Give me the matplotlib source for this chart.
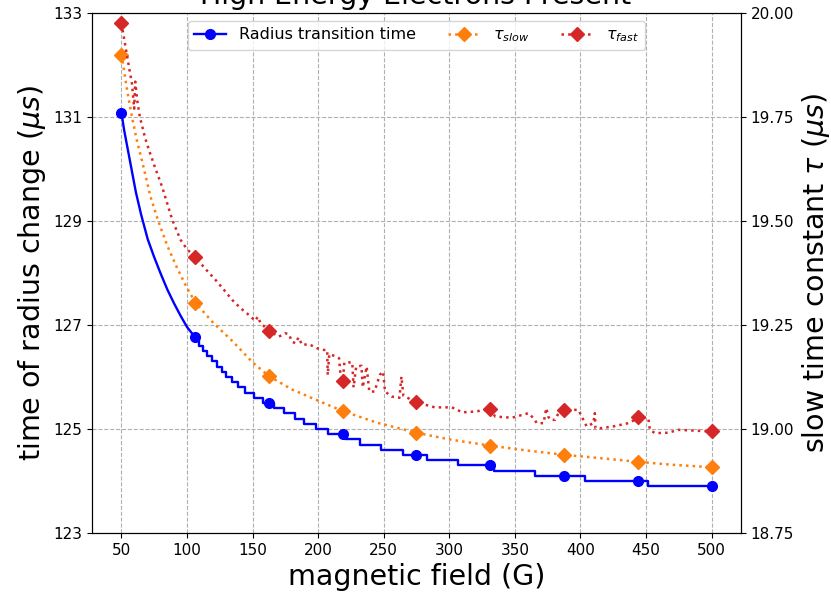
import matplotlib
matplotlib.use("Agg")
import matplotlib.pyplot as plt
from matplotlib.lines import Line2D

# radius transition time (left axis), smooth part then quantised steps
radius_curve_B = [50, 52, 55, 58, 61, 65, 70, 75, 80, 85, 90, 95, 100, 106.25]
radius_curve_t = [131.08, 130.75, 130.35, 129.95, 129.55, 129.12, 128.65, 128.30,
                  127.98, 127.68, 127.42, 127.18, 126.96, 126.76]
radius_step_B = [106.25, 109, 112, 115.5, 119, 122.5, 126.5, 130, 134, 139, 144.5, 151,
                 158, 166, 174, 182, 189, 198, 207.7, 220.8, 232.2, 248.2, 264.5, 283,
                 307, 333.8, 365.5, 403.5, 451.8, 500]
radius_step_t = [126.7, 126.6, 126.5, 126.4, 126.3, 126.2, 126.1, 126.0, 125.9, 125.8,
                 125.7, 125.6, 125.5, 125.4, 125.3, 125.2, 125.1, 125.0, 124.9, 124.8,
                 124.7, 124.6, 124.5, 124.4, 124.3, 124.2, 124.1, 124.0, 123.9, 123.9]
mark_B = [50, 106.25, 162.5, 218.75, 275, 331.25, 387.5, 443.75, 500]
radius_mark_t = [131.08, 126.76, 125.5, 124.9, 124.5, 124.3, 124.1, 124.0, 123.9]

# tau_slow (right axis)
slow_B = [50, 54, 58, 62, 66, 72, 78, 85, 92, 99, 106.25, 120, 135, 150, 162.5, 180,
          200, 218.75, 245, 275, 300, 331.25, 360, 387.5, 415, 443.75, 470, 500]
slow_tau = [19.900, 19.82, 19.75, 19.69, 19.64, 19.56, 19.50, 19.44, 19.39, 19.345,
            19.304, 19.255, 19.21, 19.16, 19.127, 19.095, 19.068, 19.043, 19.015,
            18.991, 18.975, 18.960, 18.948, 18.938, 18.930, 18.921, 18.914, 18.908]
slow_mark_tau = [19.900, 19.304, 19.127, 19.043, 18.991, 18.960, 18.938, 18.921, 18.908]

# tau_fast (right axis), noisy
fast_B = [50, 53, 56, 58, 59.7, 60.5, 62, 64, 68, 71, 76, 81, 88.8, 95, 100, 106.25,
          114, 121.8, 128, 134.5, 141, 147.2, 152, 154, 156, 162.5, 170, 175, 177.7,
          180, 182.7, 185, 187.8, 192.9, 199.2, 204.3, 206.9, 207.3, 208.5, 213, 216,
          217, 218.75, 220, 226, 227, 229, 233, 234, 237, 239, 243, 247, 249.5, 251,
          256, 262, 263.5, 265, 270, 275, 282, 289, 302, 310, 320, 331.25, 335, 347.7,
          360.4, 364.2, 366.8, 371.9, 374, 375.5, 376.9, 380.7, 383.3, 387.5, 398.5,
          401, 404.8, 409.9, 411, 411.5, 416.2, 426.4, 436.6, 441.6, 443.75, 451.8,
          453, 456.9, 467, 474.7, 487.3, 500]
fast_tau = [19.975, 19.92, 19.865, 19.83, 19.77, 19.835, 19.79, 19.75, 19.70, 19.67,
            19.625, 19.582, 19.502, 19.455, 19.432, 19.413, 19.385, 19.358, 19.335,
            19.31, 19.29, 19.274, 19.26, 19.27, 19.255, 19.236, 19.222, 19.23, 19.228,
            19.21, 19.206, 19.22, 19.202, 19.204, 19.194, 19.19, 19.19, 19.13, 19.18,
            19.175, 19.17, 19.13, 19.116, 19.16, 19.16, 19.10, 19.15, 19.152, 19.10,
            19.15, 19.09, 19.09, 19.13, 19.138, 19.09, 19.078, 19.075, 19.126, 19.08,
            19.072, 19.064, 19.058, 19.052, 19.052, 19.04, 19.042, 19.048, 19.03,
            19.027, 19.038, 19.026, 19.014, 19.014, 19.05, 19.03, 19.022, 19.022,
            19.038, 19.046, 19.046, 19.03, 19.006, 19.014, 19.038, 19.002, 19.002,
            19.007, 19.014, 19.022, 19.03, 19.026, 18.998, 18.99, 18.991, 18.998,
            18.996, 18.994]
fast_mark_tau = [19.975, 19.413, 19.236, 19.116, 19.064, 19.048, 19.046, 19.030, 18.994]

fig = plt.figure(figsize=(8.31, 5.93), dpi=100)
ax = fig.add_axes([0.1107, 0.1012, 0.781, 0.8769])
ax2 = ax.twinx()

ax.plot(radius_curve_B, radius_curve_t, color="blue", lw=1.7)
ax.plot(radius_step_B, radius_step_t, color="blue", lw=1.7, drawstyle="steps-post")
ax.plot(mark_B, radius_mark_t, "o", color="blue", ms=7)

ax2.plot(slow_B, slow_tau, ":", color="tab:orange", lw=1.8)
ax2.plot(mark_B, slow_mark_tau, "D", color="tab:orange", ms=7)
ax2.plot(fast_B, fast_tau, ":", color="tab:red", lw=1.8)
ax2.plot(mark_B, fast_mark_tau, "D", color="tab:red", ms=7)

ax.set_ylim(123, 133)
ax.set_yticks([123, 125, 127, 129, 131, 133])
ax2.set_ylim(18.75, 20.0)
ax2.set_yticks([18.75, 19.0, 19.25, 19.5, 19.75, 20.0])
ax.set_xticks(range(50, 501, 50))
ax.grid(True, linestyle="--", color="#b0b0b0", lw=0.8)
ax.tick_params(labelsize=11)
ax2.tick_params(labelsize=11)

ax.set_xlabel("magnetic field (G)", fontsize=20.5)
ax.set_ylabel(r"time of radius change ($\mu s$)", fontsize=20.5)
ax2.set_ylabel(r"slow time constant $\tau$ ($\mu s$)", fontsize=20.5)

handles = [
    Line2D([], [], color="blue", marker="o", ms=7, lw=1.7),
    Line2D([], [], color="tab:orange", marker="D", ms=7, ls=":", lw=1.8),
    Line2D([], [], color="tab:red", marker="D", ms=7, ls=":", lw=1.8),
]
labels = ["Radius transition time", r"$\tau_{slow}$", r"$\tau_{fast}$"]
ax2.legend(handles, labels, loc="upper center", ncol=3, fontsize=11.5)

fig.text(0.5, 1 - 4 / 593, "High Energy Electrons Present", ha="center",
         va="baseline", fontsize=20.5)

fig.savefig("out.png", dpi=100)
